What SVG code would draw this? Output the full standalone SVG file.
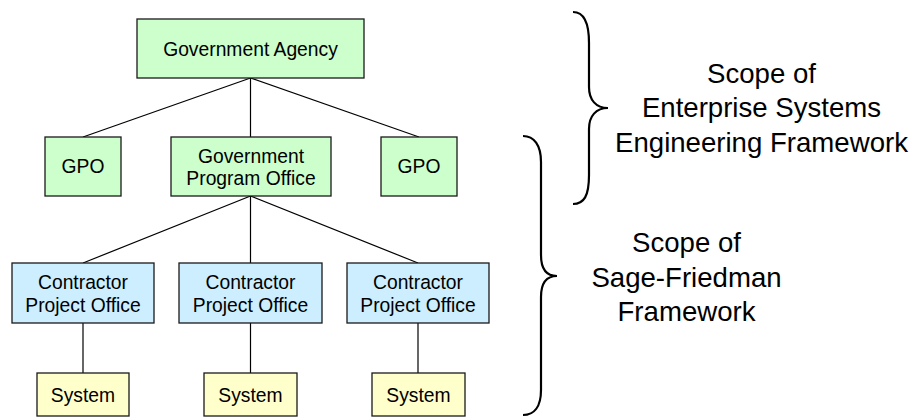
<svg xmlns="http://www.w3.org/2000/svg" width="913" height="417" viewBox="0 0 913 417">
  <style>
    .box { stroke: #1a1a1a; stroke-width: 1.3; }
    .agency { fill: #ccffcc; }
    .contractor { fill: #cceeff; }
    .system { fill: #ffffcc; }
    .lbl { font-family: "Liberation Sans", Arial, sans-serif; font-size: 19.3px; fill: #000; text-anchor: middle; }
    .scope { font-family: "Liberation Sans", Arial, sans-serif; font-size: 27.6px; fill: #000; text-anchor: middle; }
    .link { stroke: #000; stroke-width: 1.2; fill: none; }
    .brace { stroke: #000; stroke-width: 2.2; fill: none; }
  </style>

  <!-- connectors -->
  <g id="connectors">
    <line class="link" x1="250.5" y1="78" x2="83" y2="137"/>
    <line class="link" x1="250.5" y1="78" x2="250.5" y2="137"/>
    <line class="link" x1="250.5" y1="78" x2="419" y2="137"/>
    <line class="link" x1="250.5" y1="196" x2="83" y2="263"/>
    <line class="link" x1="250.5" y1="196" x2="250.5" y2="263"/>
    <line class="link" x1="250.5" y1="196" x2="418" y2="263"/>
    <line class="link" x1="83" y1="323" x2="83" y2="373"/>
    <line class="link" x1="250.5" y1="323" x2="250.5" y2="373"/>
    <line class="link" x1="418" y1="323" x2="418" y2="373"/>
  </g>

  <!-- government tier -->
  <g id="government-agency">
    <rect class="box agency" x="137" y="19" width="227" height="59"/>
    <text class="lbl" x="250.5" y="56">Government Agency</text>
  </g>
  <g id="gpo-left">
    <rect class="box agency" x="45" y="137" width="76" height="59"/>
    <text class="lbl" x="83" y="173">GPO</text>
  </g>
  <g id="government-program-office">
    <rect class="box agency" x="171" y="137" width="160" height="59"/>
    <text class="lbl" x="251" y="163">Government</text>
    <text class="lbl" x="251" y="185">Program Office</text>
  </g>
  <g id="gpo-right">
    <rect class="box agency" x="381" y="137" width="76" height="59"/>
    <text class="lbl" x="419" y="173">GPO</text>
  </g>

  <!-- contractor tier -->
  <g id="cpo-1">
    <rect class="box contractor" x="12" y="263" width="142" height="60"/>
    <text class="lbl" x="83" y="289">Contractor</text>
    <text class="lbl" x="83" y="312">Project Office</text>
  </g>
  <g id="cpo-2">
    <rect class="box contractor" x="179" y="263" width="143" height="60"/>
    <text class="lbl" x="250.5" y="289">Contractor</text>
    <text class="lbl" x="250.5" y="312">Project Office</text>
  </g>
  <g id="cpo-3">
    <rect class="box contractor" x="347" y="263" width="142" height="60"/>
    <text class="lbl" x="418" y="289">Contractor</text>
    <text class="lbl" x="418" y="312">Project Office</text>
  </g>

  <!-- systems -->
  <g id="system-1">
    <rect class="box system" x="37" y="373" width="92" height="43"/>
    <text class="lbl" x="83" y="402">System</text>
  </g>
  <g id="system-2">
    <rect class="box system" x="204" y="373" width="93" height="43"/>
    <text class="lbl" x="250.5" y="402">System</text>
  </g>
  <g id="system-3">
    <rect class="box system" x="372" y="373" width="93" height="43"/>
    <text class="lbl" x="418.5" y="402">System</text>
  </g>

  <!-- scope braces and labels -->
  <g id="scope-ese">
    <path class="brace" d="M573,12 C584,12 589,22 589,43 L589,87 C589,100 596,108 608,108 C596,108 589,116 589,129 L589,175 C589,196 584,204 573,204"/>
    <text class="scope" x="761.5" y="83">Scope of</text>
    <text class="scope" x="761.5" y="117">Enterprise Systems</text>
    <text class="scope" x="761.5" y="152">Engineering Framework</text>
  </g>
  <g id="scope-sf">
    <path class="brace" d="M523,136 C534,136 541,145 541,162 L541,255 C541,268 546,276 557,276 C546,276 541,284 541,297 L541,390 C541,407 534,415 523,415"/>
    <text class="scope" x="686.5" y="252">Scope of</text>
    <text class="scope" x="686.5" y="287">Sage-Friedman</text>
    <text class="scope" x="686.5" y="321">Framework</text>
  </g>
</svg>
